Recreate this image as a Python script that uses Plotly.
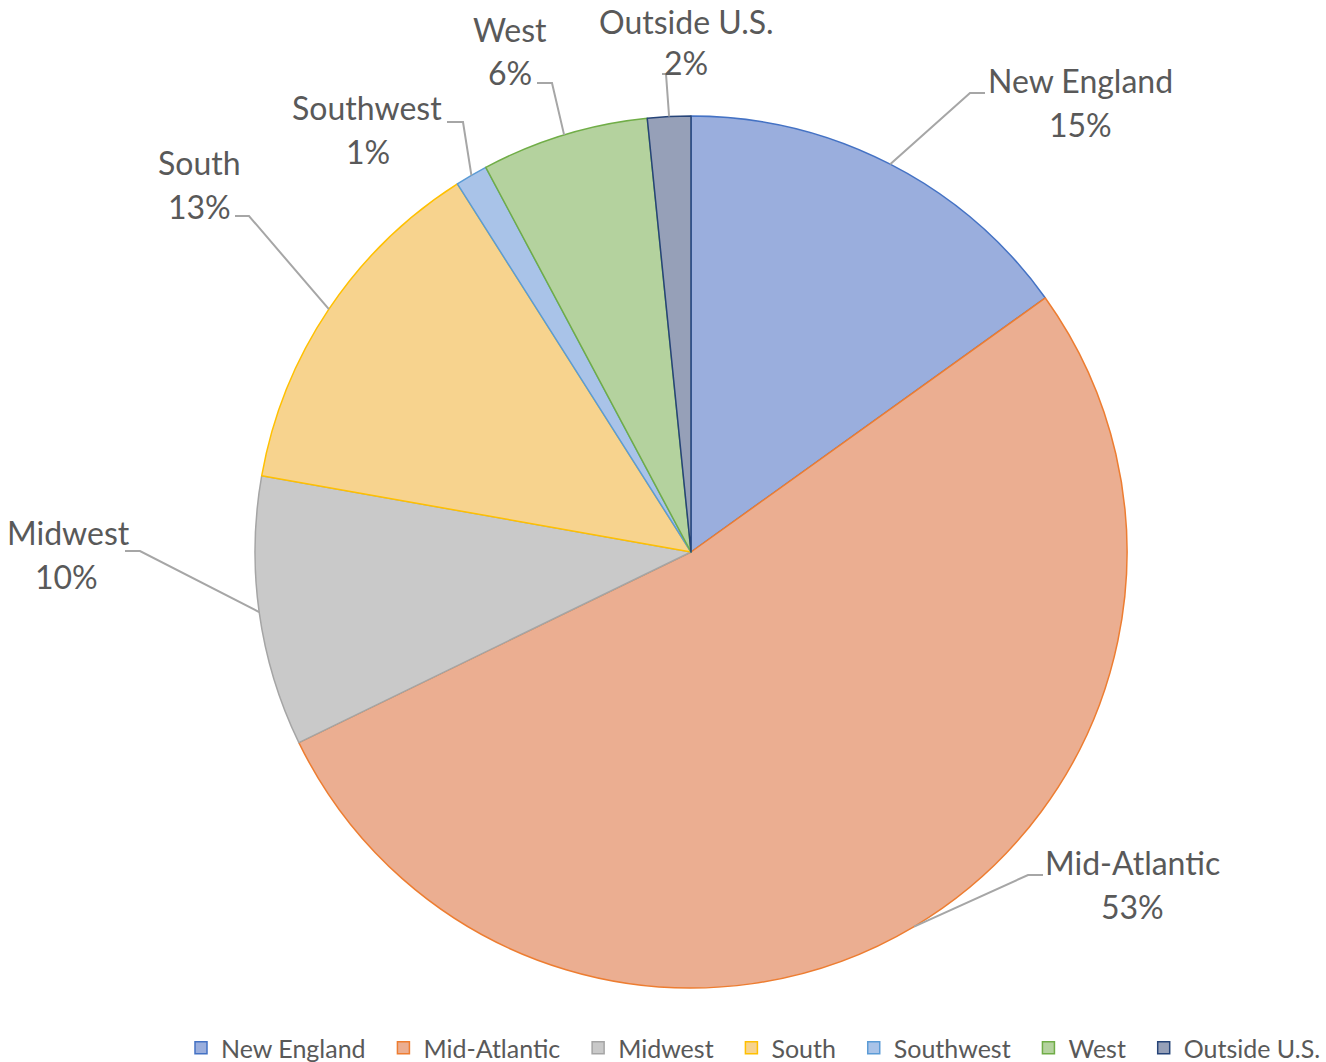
import math
import plotly.graph_objects as go

# ---- data ----
regions = ["New England", "Mid-Atlantic", "Midwest", "South", "Southwest", "West", "Outside U.S."]
shares = [15.1, 52.7, 10.0, 13.2, 1.2, 6.2, 1.6]

# ---- styles ----
fill_colors = ["#9aaedd", "#ebae91", "#c9c9c9", "#f7d38e", "#a9c3e8", "#b4d29e", "#96a0b8"]
line_colors = ["#4472c4", "#ed7d31", "#a5a5a5", "#ffc000", "#5b9bd5", "#70ad47", "#264478"]

W, H = 1326, 1062
CX, CY, R = 691, 552, 436    # pie centre / radius in pixels
FONT = "Lato"
TXT = "#595959"

# label layout (pixels): name centre, pct centre, connector end at the label
name_pos = [(1080, 80), (1132, 862), (68, 532), (199, 162), (367, 107), (510, 30), (686, 22)]
pct_pos = [(1080, 124), (1132, 906), (66, 576), (199, 206), (368, 151), (510, 73), (686, 63)]
conn_end = [(985, 93), (1043, 875), (125, 551), (235, 216), (447, 122), (537, 83), (662, 74)]
elbow_dx = [-15, -15, 15, 14, 16, 15, 4]


def px(x):
    return x / W


def py(y):
    return 1 - y / H


PAD = "\u00a0" * 2
legend_labels = [r + PAD if i < len(regions) - 1 else r for i, r in enumerate(regions)]

fig = go.Figure()
fig.add_trace(go.Pie(
    labels=legend_labels,
    values=shares,
    customdata=regions,
    sort=False,
    direction="clockwise",
    rotation=0,
    textinfo="none",
    hovertemplate="%{customdata}: %{percent}<extra></extra>",
    marker=dict(colors=fill_colors, line=dict(color=line_colors, width=1.5)),
    domain=dict(x=[px(CX - R), px(CX + R)], y=[py(CY + R), py(CY - R)]),
))

total = sum(shares)
annotations = []
shapes = []
cum = 0.0
for i, (name, v) in enumerate(zip(regions, shares)):
    mid = (cum + v / 2) / total * 2 * math.pi
    cum += v
    sx = CX + R * math.sin(mid)
    sy = CY - R * math.cos(mid)
    ex, ey = conn_end[i]
    bx = ex + elbow_dx[i]
    path = f"M {px(sx)} {py(sy)} L {px(bx)} {py(ey)} L {px(ex)} {py(ey)}"
    shapes.append(dict(type="path", xref="paper", yref="paper", path=path,
                       line=dict(color="#a6a6a6", width=2)))
    pct = f"{round(v / total * 100)}%"
    nx, ny = name_pos[i]
    qx, qy = pct_pos[i]
    annotations.append(dict(x=px(nx), y=py(ny), xref="paper", yref="paper", text=name,
                            showarrow=False, xanchor="center", yanchor="middle",
                            font=dict(family=FONT, size=32, color=TXT)))
    annotations.append(dict(x=px(qx), y=py(qy), xref="paper", yref="paper", text=pct,
                            showarrow=False, xanchor="center", yanchor="middle",
                            font=dict(family=FONT, size=32, color=TXT)))

fig.update_layout(
    width=W, height=H,
    margin=dict(l=0, r=0, t=0, b=0, autoexpand=False),
    paper_bgcolor="white",
    plot_bgcolor="white",
    showlegend=True,
    legend=dict(orientation="h", x=1, xanchor="right",
                y=py(1048), yanchor="middle",
                font=dict(family=FONT, size=25, color=TXT), itemwidth=30,
                bgcolor="rgba(0,0,0,0)", tracegroupgap=0),
    annotations=annotations,
    shapes=shapes,
)

fig.write_html("out.html", config={"displayModeBar": False},
               post_script="document.body.style.margin='0px';")
